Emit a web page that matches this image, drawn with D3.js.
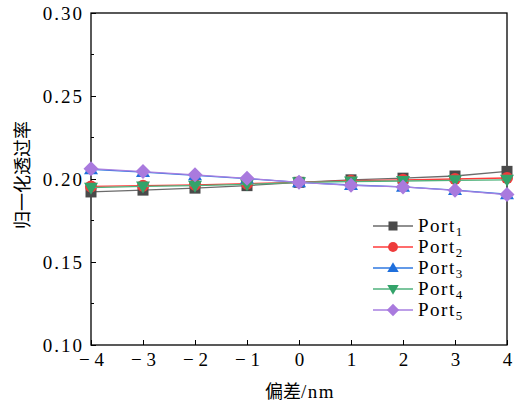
<!DOCTYPE html>
<html><head><meta charset="utf-8">
<script src="https://cdn.jsdelivr.net/npm/d3@7"></script>
<style>body{margin:0;background:#fff} .tick text{font-family:"Liberation Serif","Times New Roman",serif !important;}</style>
</head><body>
<svg id="c" width="517" height="407"></svg>
<script>
const xValues = [-4, -3, -2, -1, 0, 1, 2, 3, 4];
const port1 = [0.1922, 0.1933, 0.1945, 0.1960, 0.1980, 0.1995, 0.2005, 0.2018, 0.2046];
const port2 = [0.1955, 0.1960, 0.1965, 0.1972, 0.1980, 0.1990, 0.1995, 0.2000, 0.2006];
const port3 = [0.2058, 0.2042, 0.2022, 0.2002, 0.1980, 0.1964, 0.1953, 0.1933, 0.1908];
const port4 = [0.1948, 0.1955, 0.1960, 0.1968, 0.1980, 0.1985, 0.1988, 0.1992, 0.1995];
const port5 = [0.2062, 0.2045, 0.2025, 0.2004, 0.1980, 0.1962, 0.1952, 0.1932, 0.1906];
const seriesNames = ["Port1", "Port2", "Port3", "Port4", "Port5"];
const yTicks = [0.10, 0.15, 0.20, 0.25, 0.30];
const yMinorTicks = [0.125, 0.175, 0.225, 0.275];
const xLabelCJK = "偏差";
const xLabelUnit = "/nm";
const yLabel = "归一化透过率";

const series = [
  {name: "Port", sub: "1", values: port1, color: "#6b6b6b", fill: "#4a4a4a", shape: "square"},
  {name: "Port", sub: "2", values: port2, color: "#ff3b3b", fill: "#ee3b3b", shape: "circle"},
  {name: "Port", sub: "3", values: port3, color: "#2f78e0", fill: "#1f6fdc", shape: "triangle"},
  {name: "Port", sub: "4", values: port4, color: "#4fb27c", fill: "#33a36a", shape: "triangleDown"},
  {name: "Port", sub: "5", values: port5, color: "#a77fe0", fill: "#a97ade", shape: "diamond"}
];

const svg = d3.select("#c");
const L = 91, R = 507, T = 13, B = 345;
const x = d3.scaleLinear().domain([-4, 4]).range([L, R]);
const y = d3.scaleLinear().domain([0.10, 0.30]).range([B, T]);
const serif = '"Liberation Serif", "Times New Roman", serif';
const cjk = '"Noto Sans CJK SC", sans-serif';

// frame
svg.append("rect").attr("x", L).attr("y", T).attr("width", R - L).attr("height", B - T)
  .attr("fill", "none").attr("stroke", "#000").attr("stroke-width", 1.3);

// y axis
const yAxis = d3.axisLeft(y).tickValues(yTicks).tickSize(-5).tickPadding(7)
  .tickFormat(d3.format(".2f"));
const gy = svg.append("g").attr("transform", `translate(${L},0)`).call(yAxis)
  .attr("font-family", serif).attr("font-size", 19);
gy.select(".domain").remove();
gy.selectAll("line").attr("stroke", "#000").attr("stroke-width", 1);
gy.selectAll("text").style("font-family", serif).style("font-size", "19px")
  .style("letter-spacing", "2px").attr("fill", "#000");
svg.append("g").selectAll("line").data(yMinorTicks).join("line")
  .attr("x1", L).attr("x2", L + 3).attr("y1", d => y(d)).attr("y2", d => y(d))
  .attr("stroke", "#000");

// x axis
const xAxis = d3.axisBottom(x).tickValues(xValues).tickSize(-5).tickPadding(8)
  .tickFormat(d => d < 0 ? "\u2212 " + Math.abs(d) : String(d));
const gx = svg.append("g").attr("transform", `translate(0,${B})`).call(xAxis)
  .attr("font-family", serif).attr("font-size", 19);
gx.select(".domain").remove();
gx.selectAll("line").attr("stroke", "#000").attr("stroke-width", 1);
gx.selectAll("text").style("font-family", serif).style("font-size", "19px")
  .style("white-space", "pre").attr("fill", "#000");

// axis labels
const xl = svg.append("text").attr("x", (L + R) / 2 + 1).attr("y", 398).attr("text-anchor", "middle")
  .style("font-size", "18px").style("font-family", cjk).text(xLabelCJK);
xl.append("tspan").style("font-family", serif).style("font-size", "19px")
  .style("letter-spacing", "1.5px").text(xLabelUnit);
svg.append("text").attr("transform", `translate(29,${(T + B) / 2 - 4}) rotate(-90)`)
  .attr("text-anchor", "middle").style("font-size", "18px")
  .style("font-family", cjk).text(yLabel);

function drawMarker(g, shape, cx, cy, fill, k) {
  if (shape === "square") {
    g.append("rect").attr("x", cx - 5.5 * k).attr("y", cy - 5.5 * k).attr("width", 11 * k).attr("height", 11 * k).attr("fill", fill);
  } else if (shape === "circle") {
    g.append("circle").attr("cx", cx).attr("cy", cy).attr("r", 6 * k).attr("fill", fill);
  } else if (shape === "triangle") {
    g.append("path").attr("d", `M${cx},${cy - 7 * k}L${cx + 7 * k},${cy + 5 * k}L${cx - 7 * k},${cy + 5 * k}Z`).attr("fill", fill);
  } else if (shape === "triangleDown") {
    g.append("path").attr("d", `M${cx},${cy + 7 * k}L${cx + 7 * k},${cy - 5 * k}L${cx - 7 * k},${cy - 5 * k}Z`).attr("fill", fill);
  } else if (shape === "diamond") {
    g.append("path").attr("d", `M${cx},${cy - 7.5 * k}L${cx + 7.5 * k},${cy}L${cx},${cy + 7.5 * k}L${cx - 7.5 * k},${cy}Z`).attr("fill", fill);
  }
}

const line = d3.line().x((d, i) => x(xValues[i])).y(d => y(d));
series.forEach(s => {
  const g = svg.append("g");
  g.append("path").datum(s.values).attr("d", line).attr("fill", "none")
    .attr("stroke", s.color).attr("stroke-width", 1.3);
  s.values.forEach((v, i) => drawMarker(g, s.shape, x(xValues[i]), y(v), s.fill, 1));
});

// legend
const legY = [226, 247, 268, 289, 310];
series.forEach((s, i) => {
  const g = svg.append("g");
  g.append("line").attr("x1", 373).attr("x2", 413).attr("y1", legY[i]).attr("y2", legY[i])
    .attr("stroke", s.color).attr("stroke-width", 1.3);
  drawMarker(g, s.shape, 393, legY[i], s.fill, 0.82);
  const t = g.append("text").attr("x", 418).attr("y", legY[i] + 6)
    .style("font-family", serif).style("font-size", "19px").style("letter-spacing", "1.5px").text(s.name);
  t.append("tspan").attr("dy", 4).style("font-size", "13px").style("letter-spacing", "0px").text(s.sub);
});
</script>
</body></html>
